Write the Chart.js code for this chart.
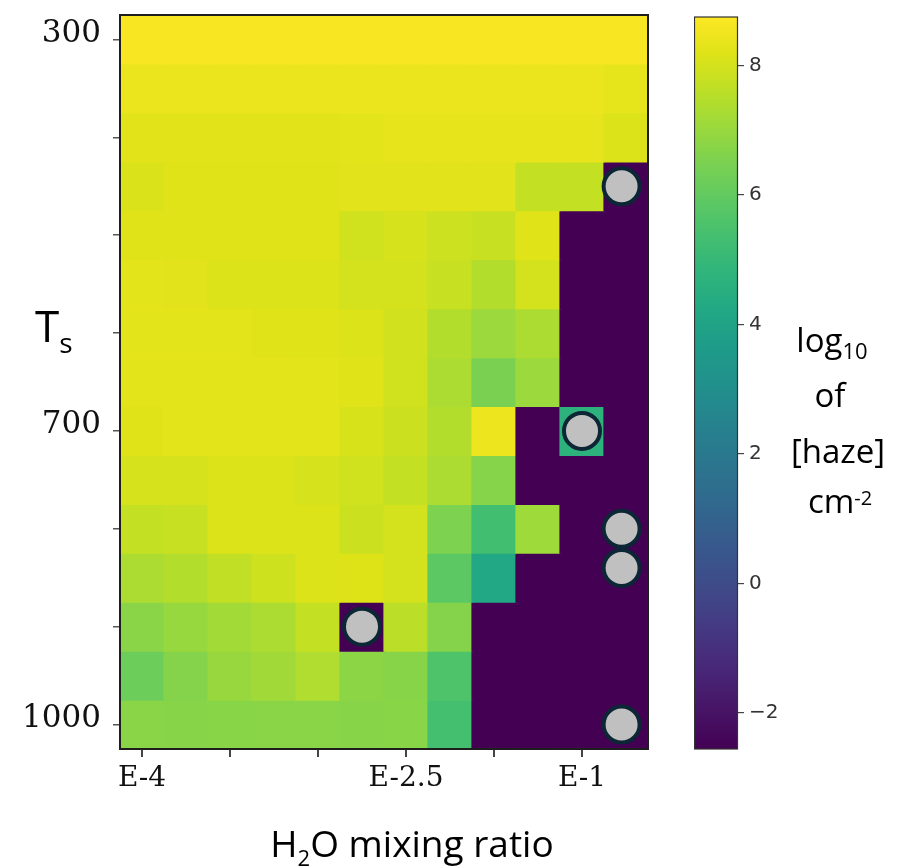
<!DOCTYPE html>
<html>
<head>
  <meta charset="utf-8" />
  <title>Haze column vs T and H2O</title>
  <script src="https://cdn.jsdelivr.net/npm/chart.js@4.4.1/dist/chart.umd.min.js"></script>
  <style>
    body { margin: 0; background: #ffffff; }
    #wrap { position: relative; width: 902px; height: 868px; }
    #heat { position: absolute; left: 0; top: 0; }
    #cbar { position: absolute; left: 694px; top: 0; }
  </style>
</head>
<body>
  <div id="wrap">
    <canvas id="heat" width="902" height="868"></canvas>
    <canvas id="cbar" width="110" height="868"></canvas>
  </div>
  <script>
    // surface temperature rows (K), top to bottom
    const tempK = [300, 350, 400, 450, 500, 550, 600, 650, 700, 750, 800, 850, 900, 950, 1000];
    // H2O mixing ratio columns (index along the axis)
    const colIdx = [0, 1, 2, 3, 4, 5, 6, 7, 8, 9, 10, 11];
    const xTickPos = [0, 2, 4, 6, 8, 10];
    const xTickText = ['E-4', '', '', 'E-2.5', '', 'E-1'];
    const yTickPos = [300, 400, 500, 600, 700, 800, 900, 1000];
    const yTickText = ['300', '', '', '', '700', '', '', '1000'];

    // log10 haze column, one row per temperature; nh = no haze (bottom of colour scale)
    const nh = -2.56;
    const hazeLog10 = [
      [8.65, 8.65, 8.65, 8.65, 8.65, 8.65, 8.65, 8.65, 8.65, 8.65, 8.65, 8.65],
      [8.42, 8.42, 8.42, 8.42, 8.42, 8.42, 8.42, 8.42, 8.42, 8.42, 8.42, 8.32],
      [8.24, 8.24, 8.24, 8.24, 8.24, 8.26, 8.36, 8.36, 8.36, 8.36, 8.36, 8.15],
      [8.10, 8.18, 8.18, 8.18, 8.18, 8.25, 8.25, 8.25, 8.25, 7.73, 7.73, nh],
      [8.20, 8.18, 8.18, 8.18, 8.18, 7.93, 8.02, 7.87, 7.80, 8.20, nh, nh],
      [8.27, 8.25, 8.13, 8.13, 8.13, 7.98, 8.00, 7.80, 7.45, 8.00, nh, nh],
      [8.27, 8.27, 8.27, 8.22, 8.20, 8.13, 7.96, 7.45, 7.05, 7.34, nh, nh],
      [8.27, 8.27, 8.27, 8.27, 8.27, 8.20, 7.93, 7.34, 6.49, 7.05, nh, nh],
      [8.22, 8.27, 8.27, 8.27, 8.27, 8.05, 7.85, 7.45, 8.45, nh, 4.70, nh],
      [8.02, 8.02, 8.15, 8.13, 8.02, 7.93, 7.73, 7.34, 6.70, nh, nh, nh],
      [7.73, 7.80, 8.13, 8.13, 8.13, 7.85, 8.00, 6.54, 5.30, 7.11, nh, nh],
      [7.34, 7.45, 7.68, 7.90, 8.13, 8.17, 8.00, 5.87, 4.23, nh, nh, nh],
      [6.77, 6.98, 7.17, 7.34, 7.73, nh, 7.58, 6.66, nh, nh, nh, nh],
      [6.20, 6.66, 7.00, 7.15, 7.40, 6.80, 6.72, 5.58, nh, nh, nh, nh],
      [6.77, 6.72, 6.74, 6.77, 6.77, 6.72, 6.74, 5.36, nh, nh, nh, nh]
    ];

    // grey circle markers
    const markerCol = [10.9, 10, 10.9, 10.9, 5, 10.9];
    const markerT = [450, 700, 800, 840, 900, 1000];

    // colour bar
    const cbMin = -2.56;
    const cbMax = 8.75;
    const cbTicks = [-2, 0, 2, 4, 6, 8];

    // viridis, sampled every 0.05
    const viridisStops = ['#440154', '#471365', '#482475', '#463480', '#414487', '#3b528b', '#355f8d',
      '#2f6c8e', '#2a788e', '#25848e', '#21918c', '#1e9c89', '#22a884', '#2fb47c', '#44bf70',
      '#5ec962', '#7ad151', '#9bd93c', '#bddf26', '#dfe318', '#fde725'];

    function hexRgb(h) {
      return [parseInt(h.slice(1, 3), 16), parseInt(h.slice(3, 5), 16), parseInt(h.slice(5, 7), 16)];
    }
    function viridis(t) {
      t = Math.max(0, Math.min(1, t));
      const n = viridisStops.length - 1;
      const i = Math.min(Math.floor(t * n), n - 1);
      const u = t * n - i;
      const a = hexRgb(viridisStops[i]), b = hexRgb(viridisStops[i + 1]);
      const c = a.map((v, k) => Math.round(v + (b[k] - v) * u));
      return `rgb(${c[0]},${c[1]},${c[2]})`;
    }
    const colourOf = v => viridis((v - cbMin) / (cbMax - cbMin));

    // one floating-bar dataset per temperature row
    const rowSets = tempK.map((T, r) => ({
      type: 'bar',
      order: 1,
      data: colIdx.map(c => ({ x: c, y: [T - 25, T + 25] })),
      backgroundColor: hazeLog10[r].map(colourOf),
      borderWidth: 0,
      inflateAmount: 0.6,
      barPercentage: 1,
      categoryPercentage: 1,
      grouped: false
    }));

    const markerSet = {
      type: 'scatter',
      order: 0,
      data: markerCol.map((c, i) => ({ x: c, y: markerT[i] })),
      pointRadius: 18,
      pointBorderWidth: 4,
      backgroundColor: '#c0c0c0',
      borderColor: '#0c2636',
      clip: false
    };

    // draws rich text (main text with sub/superscripts), centred or left aligned
    function drawRich(ctx, parts, x, y, align) {
      let w = 0;
      parts.forEach(p => { ctx.font = p.font; w += ctx.measureText(p.text).width; });
      let cx = align === 'center' ? x - w / 2 : x;
      ctx.textAlign = 'left';
      ctx.textBaseline = 'alphabetic';
      parts.forEach(p => {
        ctx.font = p.font;
        ctx.fillText(p.text, cx, y + (p.dy || 0));
        cx += ctx.measureText(p.text).width;
      });
    }

    const big = '37px "Open Sans"';
    const mid = '33px "Open Sans"';
    const small = '22px "Open Sans"';

    const framePlugin = {
      id: 'frame',
      afterDraw(chart) {
        const { ctx, chartArea: a } = chart;
        ctx.save();
        ctx.strokeStyle = '#1e1e1e';
        ctx.lineWidth = 2;
        ctx.strokeRect(a.left, a.top, a.right - a.left, a.bottom - a.top);
        ctx.fillStyle = '#000000';
        // y title
        drawRich(ctx, [
          { text: 'T', font: '44px "Open Sans"' },
          { text: 's', font: '28px "Open Sans"', dy: 11 }
        ], 35, 342, 'left');
        // x title
        drawRich(ctx, [
          { text: 'H', font: big },
          { text: '2', font: small, dy: 9 },
          { text: 'O mixing ratio', font: big }
        ], 412, 857, 'center');
        // colour bar title
        drawRich(ctx, [{ text: 'log', font: mid }, { text: '10', font: small, dy: 7 }], 832, 352, 'center');
        drawRich(ctx, [{ text: 'of', font: mid }], 830, 407, 'center');
        drawRich(ctx, [{ text: '[haze]', font: mid }], 838, 463, 'center');
        drawRich(ctx, [{ text: 'cm', font: mid }, { text: '-2', font: '20px "Open Sans"', dy: -8 }], 840, 513, 'center');
        ctx.restore();
      }
    };

    new Chart(document.getElementById('heat'), {
      type: 'bar',
      data: { datasets: [markerSet, ...rowSets] },
      options: {
        responsive: false,
        animation: false,
        layout: { autoPadding: false, padding: { top: 15, right: 254, left: 0, bottom: 0 } },
        plugins: { legend: { display: false }, tooltip: { enabled: false } },
        scales: {
          x: {
            type: 'linear',
            min: -0.5,
            max: 11.5,
            offset: false,
            afterBuildTicks: s => { s.ticks = xTickPos.map(v => ({ value: v })); },
            afterFit: s => { s.height = 119; s.paddingLeft = 0; s.paddingRight = 0; },
            ticks: {
              autoSkip: false,
              maxRotation: 0,
              padding: 5,
              color: '#111',
              font: { family: 'DejaVu Serif', size: 28 },
              callback: v => xTickText[xTickPos.indexOf(v)]
            },
            grid: { offset: false, drawOnChartArea: false, tickLength: 8, color: '#444', lineWidth: 2 },
            border: { display: false }
          },
          y: {
            type: 'linear',
            reverse: true,
            min: 275,
            max: 1025,
            afterBuildTicks: s => { s.ticks = yTickPos.map(v => ({ value: v })); },
            afterFit: s => { s.width = 120; s.paddingTop = 0; s.paddingBottom = 0; },
            ticks: {
              autoSkip: false,
              padding: 12,
              labelOffset: -6,
              color: '#111',
              font: { family: 'DejaVu Serif', size: 31 },
              callback: v => yTickText[yTickPos.indexOf(v)]
            },
            grid: { offset: false, drawOnChartArea: false, tickLength: 7, color: '#555', lineWidth: 1.5 },
            border: { display: false }
          }
        }
      },
      plugins: [framePlugin]
    });

    // colour bar as a single floating bar filled with the colormap
    const cbFrame = {
      id: 'cbFrame',
      afterDraw(chart) {
        const { ctx, chartArea: a } = chart;
        ctx.save();
        ctx.strokeStyle = '#333';
        ctx.lineWidth = 1.2;
        ctx.strokeRect(a.left + 0.5, a.top, a.right - a.left - 1, a.bottom - a.top);
        ctx.restore();
      }
    };

    new Chart(document.getElementById('cbar'), {
      type: 'bar',
      data: {
        labels: [''],
        datasets: [{
          data: [[cbMin, cbMax]],
          barPercentage: 1,
          categoryPercentage: 1,
          borderWidth: 0,
          backgroundColor: ctx => {
            const a = ctx.chart.chartArea;
            if (!a) return '#888';
            const g = ctx.chart.ctx.createLinearGradient(0, a.bottom, 0, a.top);
            viridisStops.forEach((c, i) => g.addColorStop(i / (viridisStops.length - 1), c));
            return g;
          }
        }]
      },
      options: {
        responsive: false,
        animation: false,
        layout: { padding: { top: 15, bottom: 119, left: 0, right: 0 } },
        plugins: { legend: { display: false }, tooltip: { enabled: false } },
        scales: {
          x: { display: false },
          y: {
            position: 'right',
            min: cbMin,
            max: cbMax,
            afterBuildTicks: s => { s.ticks = cbTicks.map(v => ({ value: v })); },
            afterFit: s => { s.width = 66; },
            ticks: {
              padding: 5,
              color: '#333',
              font: { family: 'DejaVu Sans', size: 20 },
              callback: v => (v < 0 ? '\u2212' + Math.abs(v) : String(v))
            },
            grid: { drawOnChartArea: false, tickLength: 6, color: '#444', lineWidth: 1.2 },
            border: { display: false }
          }
        }
      },
      plugins: [cbFrame]
    });
  </script>
</body>
</html>
